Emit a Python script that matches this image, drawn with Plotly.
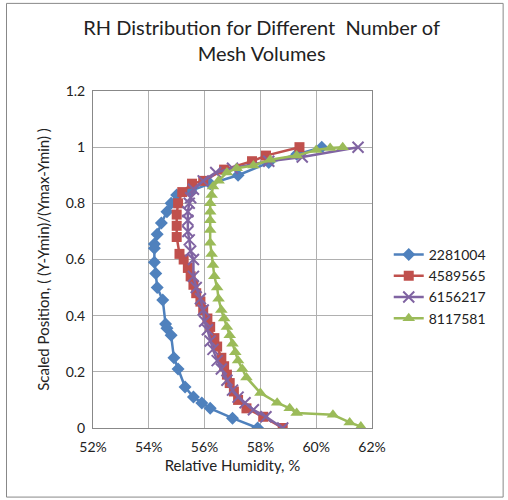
import plotly.graph_objects as go

# Relative humidity (%) vs scaled position, per mesh size
rh_2281004 = [60.2, 59.3, 58.3, 57.2, 56.2, 55.5, 55.0, 54.8, 54.65, 54.45, 54.3, 54.2, 54.2, 54.2, 54.25, 54.3, 54.5, 54.6, 54.65, 54.8, 54.9, 55.05, 55.3, 55.6, 55.9, 56.2, 57.0, 57.9]
y_2281004  = [1.0, 0.975, 0.945, 0.90, 0.87, 0.845, 0.83, 0.80, 0.77, 0.73, 0.69, 0.655, 0.64, 0.59, 0.55, 0.50, 0.456, 0.37, 0.355, 0.33, 0.25, 0.21, 0.146, 0.11, 0.089, 0.07, 0.035, 0.0]

rh_4589565 = [59.4, 58.2, 57.7, 56.7, 55.95, 55.55, 55.2, 55.05, 55.0, 55.0, 55.0, 55.1, 55.25, 55.4, 55.5, 55.6, 55.7, 55.85, 55.95, 56.1, 56.2, 56.35, 56.45, 56.6, 56.7, 56.8, 56.9, 57.05, 57.2, 57.5, 58.1, 58.8]
y_4589565  = [1.0, 0.97, 0.95, 0.92, 0.88, 0.87, 0.84, 0.80, 0.76, 0.72, 0.68, 0.62, 0.60, 0.57, 0.54, 0.51, 0.48, 0.45, 0.42, 0.39, 0.36, 0.32, 0.29, 0.25, 0.22, 0.19, 0.16, 0.13, 0.10, 0.07, 0.04, 0.0]

rh_6156217 = [61.5, 59.5, 58.3, 57.0, 56.4, 55.95, 55.6, 55.5, 55.45, 55.4, 55.4, 55.4, 55.45, 55.5, 55.6, 55.6, 55.7, 55.85, 55.95, 56.0, 56.1, 56.2, 56.3, 56.45, 56.6, 56.8, 57.0, 57.2, 57.45, 57.75, 58.2, 58.8]
y_6156217  = [1.0, 0.965, 0.95, 0.925, 0.91, 0.88, 0.85, 0.82, 0.80, 0.77, 0.74, 0.70, 0.67, 0.63, 0.60, 0.54, 0.50, 0.46, 0.42, 0.38, 0.35, 0.31, 0.28, 0.24, 0.21, 0.17, 0.135, 0.11, 0.09, 0.065, 0.04, 0.0]

rh_8117581 = [60.95, 60.5, 60.0, 59.3, 58.35, 57.75, 57.15, 56.8, 56.5, 56.3, 56.25, 56.2, 56.2, 56.2, 56.2, 56.2, 56.25, 56.3, 56.35, 56.45, 56.5, 56.6, 56.7, 56.8, 56.9, 57.0, 57.1, 57.2, 57.35, 57.5, 58.0, 58.6, 59.05, 59.3, 60.6, 61.2, 61.6, 61.6]
y_8117581  = [1.0, 0.997, 0.99, 0.97, 0.955, 0.935, 0.925, 0.91, 0.88, 0.86, 0.83, 0.80, 0.77, 0.74, 0.705, 0.66, 0.62, 0.58, 0.54, 0.50, 0.46, 0.42, 0.39, 0.36, 0.33, 0.30, 0.27, 0.24, 0.21, 0.18, 0.125, 0.09, 0.07, 0.053, 0.047, 0.02, 0.005, 0.0]

series_names = ["2281004", "4589565", "6156217", "8117581"]
colors = ["#4F81BD", "#C0504D", "#8064A2", "#9BBB59"]
symbols = ["diamond", "square", "x-thin-open", "triangle-up"]
xs = [rh_2281004, rh_4589565, rh_6156217, rh_8117581]
ys = [y_2281004, y_4589565, y_6156217, y_8117581]
msizes = [10, 10, 11, 11]

x_ticks = [52, 54, 56, 58, 60, 62]
y_ticks = [0, 0.2, 0.4, 0.6, 0.8, 1.0, 1.2]

fig = go.Figure()
for name, c, s, x, y, ms in zip(series_names, colors, symbols, xs, ys, msizes):
    marker = dict(symbol=s, size=ms, color=c)
    if s == "x-thin-open":
        marker["line"] = dict(color=c, width=2)
    fig.add_trace(go.Scatter(x=x, y=y, mode="lines+markers", name=name,
                             line=dict(color=c, width=2.5), marker=marker))

fig.update_layout(
    width=508, height=500,
    margin=dict(l=93, r=136, t=91, b=72),
    paper_bgcolor="white", plot_bgcolor="white",
    font=dict(family="Lato, Open Sans, sans-serif", size=14, color="#222"),
    title=dict(text="RH Distribution for Different  Number of<br>Mesh Volumes",
               x=0.515, xanchor="center", y=0.93, yanchor="middle",
               font=dict(size=20, color="#222")),
    legend=dict(x=1.06, xanchor="left", y=0.42, yanchor="middle",
                font=dict(size=14), tracegroupgap=0, itemwidth=30,
                bgcolor="rgba(0,0,0,0)"),
    xaxis=dict(range=[52, 62], tickvals=x_ticks, ticktext=[f"{v}%" for v in x_ticks],
               showgrid=True, gridcolor="#B0B0B0", gridwidth=1,
               showline=True, linecolor="#888", mirror=True, zeroline=False,
               ticks="", ticklabelstandoff=6, tickfont=dict(size=14),
               title=dict(text="Relative Humidity, %", font=dict(size=15), standoff=6)),
    yaxis=dict(range=[0, 1.2], tickvals=y_ticks, ticktext=["0", "0.2", "0.4", "0.6", "0.8", "1", "1.2"],
               showgrid=True, gridcolor="#B0B0B0", gridwidth=1,
               showline=True, linecolor="#888", mirror=True, zeroline=False,
               ticks="", ticklabelstandoff=4, tickfont=dict(size=14),
               title=dict(text="Scaled Position, ( (Y-Ymin)/(Ymax-Ymin) )", font=dict(size=15), standoff=12)),
    shapes=[dict(type="rect", xref="paper", yref="paper", x0=-0.31, x1=1.47, y0=-0.205, y1=1.26,
                 line=dict(color="#888", width=1))],
)

fig.write_html("out.html")
